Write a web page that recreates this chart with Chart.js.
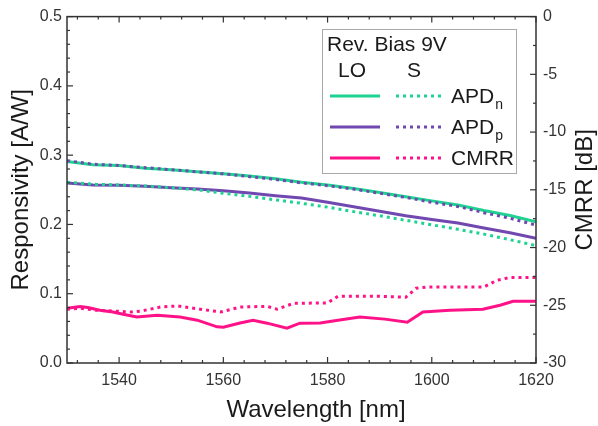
<!DOCTYPE html>
<html lang="en">
<head>
<meta charset="UTF-8">
<title>Responsivity and CMRR</title>
<script src="https://cdn.jsdelivr.net/npm/chart.js"></script>
<style>
  body { margin: 0; background: #fff; }
  #wrap { width: 598px; height: 426px; position: relative; }
</style>
</head>
<body>
<div id="wrap"><canvas id="grafica"></canvas></div>
<script>
// wavelength grid (nm) of the responsivity curves
const wavelength = [1530, 1535, 1540, 1545, 1550, 1555, 1560, 1565, 1570, 1575, 1580, 1585, 1590, 1595, 1600, 1605, 1610, 1615, 1620];

// responsivity [A/W], LO = solid, S = dotted
const apdnLO = [0.291, 0.286, 0.285, 0.281, 0.279, 0.276, 0.273, 0.270, 0.266, 0.261, 0.257, 0.252, 0.246, 0.240, 0.234, 0.228, 0.220, 0.213, 0.204];
const apdnS  = [0.261, 0.258, 0.257, 0.2555, 0.253, 0.250, 0.245, 0.2405, 0.2355, 0.2305, 0.225, 0.2185, 0.2125, 0.206, 0.1995, 0.193, 0.186, 0.178, 0.1695];
const apdpLO = [0.260, 0.257, 0.2565, 0.255, 0.253, 0.251, 0.2485, 0.2455, 0.2415, 0.238, 0.232, 0.2255, 0.219, 0.2125, 0.207, 0.202, 0.195, 0.188, 0.180];
const apdpS  = [0.292, 0.287, 0.285, 0.282, 0.279, 0.276, 0.273, 0.269, 0.265, 0.260, 0.256, 0.251, 0.245, 0.239, 0.232, 0.226, 0.217, 0.209, 0.199];

// CMRR [dB]
const cmrrLOwl = [1530, 1532.5, 1534, 1536.3, 1538.8, 1541, 1543.4, 1547.3, 1551.7, 1555, 1558.8, 1560, 1563.2, 1565.7, 1568.4, 1572.2, 1574.7, 1578.6, 1582, 1586.2, 1591, 1595.3, 1598.3, 1603.5, 1609.8, 1613.1, 1615.6, 1620];
const cmrrLO   = [-25.26, -25.1, -25.2, -25.43, -25.58, -25.8, -26.01, -25.86, -26.01, -26.29, -26.87, -26.9, -26.53, -26.29, -26.55, -26.98, -26.55, -26.53, -26.3, -26.01, -26.2, -26.47, -25.58, -25.43, -25.34, -25.0, -24.66, -24.66];
const cmrrSwl  = [1530, 1532.5, 1536, 1540, 1542.3, 1544, 1548, 1551.2, 1554.3, 1559.5, 1563.2, 1568.4, 1570.3, 1573.5, 1580, 1582, 1590, 1595, 1597, 1599, 1610, 1612.5, 1615, 1620];
const cmrrS    = [-25.34, -25.26, -25.45, -25.52, -25.58, -25.52, -25.15, -25.06, -25.26, -25.58, -25.15, -25.09, -25.34, -24.83, -24.8, -24.22, -24.22, -24.31, -23.53, -23.42, -23.42, -22.84, -22.59, -22.59];

const xTicks = [1540, 1560, 1580, 1600, 1620];

const verde = '#1ed391';
const morado = '#7048b0';
const rosa = '#ff1287';
const fuente = "'Liberation Sans', Arial, sans-serif";

const pts = (xs, ys) => xs.map((x, i) => ({ x: x, y: ys[i] }));

function serie(label, xs, ys, color, dotted, eje) {
  return {
    label: label,
    data: pts(xs, ys),
    borderColor: color,
    borderWidth: 3,
    borderDash: dotted ? [3, 4] : [],
    pointRadius: 0,
    tension: 0,
    yAxisID: eje,
    order: dotted ? 0 : 1
  };
}

// frame, inward ticks, titles and legend
const extras = {
  id: 'extras',
  afterDraw(chart) {
    const { ctx, chartArea: a, scales: { x, y, y1 } } = chart;
    ctx.save();
    ctx.strokeStyle = '#333';
    ctx.lineWidth = 1.5;
    ctx.strokeRect(a.left, a.top, a.right - a.left, a.bottom - a.top);

    const seg = (x0, y0, x1, y1_) => { ctx.beginPath(); ctx.moveTo(x0, y0); ctx.lineTo(x1, y1_); ctx.stroke(); };
    ctx.lineWidth = 1.2;
    for (let v = 1532; v <= 1620; v += 4) {
      const len = v % 20 === 0 ? 6 : 3;
      const px = x.getPixelForValue(v);
      seg(px, a.bottom, px, a.bottom - len);
      seg(px, a.top, px, a.top + len);
    }
    for (let i = 0; i <= 25; i++) {
      const len = i % 5 === 0 ? 6 : 3;
      const py = y.getPixelForValue(i * 0.02);
      seg(a.left, py, a.left + len, py);
    }
    for (let i = 0; i <= 12; i++) {
      const len = i % 2 === 0 ? 6 : 3;
      const py = y1.getPixelForValue(-i * 2.5);
      seg(a.right, py, a.right - len, py);
    }

    // axis titles
    ctx.fillStyle = '#1a1a1a';
    ctx.font = '24px ' + fuente;
    ctx.textAlign = 'center';
    ctx.textBaseline = 'alphabetic';
    ctx.fillText('Wavelength [nm]', 316, 417);
    ctx.save();
    ctx.translate(28, (a.top + a.bottom) / 2);
    ctx.rotate(-Math.PI / 2);
    ctx.fillText('Responsivity [A/W]', 0, 0);
    ctx.restore();
    ctx.save();
    ctx.translate(592, (a.top + a.bottom) / 2);
    ctx.rotate(-Math.PI / 2);
    ctx.fillText('CMRR [dB]', 0, 0);
    ctx.restore();

    // legend
    ctx.strokeStyle = '#aaa';
    ctx.lineWidth = 1;
    ctx.strokeRect(322.5, 29.5, 194, 144);
    ctx.font = '21px ' + fuente;
    ctx.textAlign = 'left';
    ctx.fillText('Rev. Bias 9V', 327, 51);
    ctx.fillText('LO', 338, 77);
    ctx.fillText('S', 407, 77);
    const filas = [
      { c: verde, t: 'APD', sub: 'n', y: 96 },
      { c: morado, t: 'APD', sub: 'p', y: 127 },
      { c: rosa, t: 'CMRR', sub: '', y: 158 }
    ];
    filas.forEach(f => {
      ctx.strokeStyle = f.c;
      ctx.lineWidth = 3;
      ctx.setLineDash([]);
      seg(330, f.y, 380, f.y);
      ctx.setLineDash([3, 4]);
      seg(396, f.y, 443, f.y);
      ctx.setLineDash([]);
      ctx.font = '21px ' + fuente;
      ctx.fillText(f.t, 451, f.y + 7);
      if (f.sub) {
        const w = ctx.measureText(f.t).width;
        ctx.font = '14px ' + fuente;
        ctx.fillText(f.sub, 451 + w + 1, f.y + 13);
      }
    });
    ctx.restore();
  }
};

new Chart(document.getElementById('grafica'), {
  type: 'line',
  data: {
    datasets: [
      serie('APDn LO', wavelength, apdnLO, verde, false, 'y'),
      serie('APDp LO', wavelength, apdpLO, morado, false, 'y'),
      serie('CMRR LO', cmrrLOwl, cmrrLO, rosa, false, 'y1'),
      serie('APDn S', wavelength, apdnS, verde, true, 'y'),
      serie('APDp S', wavelength, apdpS, morado, true, 'y'),
      serie('CMRR S', cmrrSwl, cmrrS, rosa, true, 'y1')
    ]
  },
  options: {
    responsive: true,
    maintainAspectRatio: false,
    animation: false,
    layout: { padding: { top: 15, left: 0, right: 0, bottom: 0 } },
    plugins: { legend: { display: false }, tooltip: { enabled: false } },
    scales: {
      x: {
        type: 'linear',
        min: 1530,
        max: 1620,
        afterBuildTicks: s => { s.ticks = xTicks.map(v => ({ value: v })); },
        afterFit: s => { s.height = 63; },
        grid: { display: false, drawTicks: false },
        border: { display: false },
        ticks: { color: '#333', font: { size: 16, family: fuente }, padding: 8, maxRotation: 0, callback: v => String(v) }
      },
      y: {
        position: 'left',
        min: 0,
        max: 0.5,
        afterFit: s => { s.width = 67; },
        grid: { display: false, drawTicks: false },
        border: { display: false },
        ticks: { stepSize: 0.1, color: '#333', font: { size: 16, family: fuente }, padding: 5, callback: v => v.toFixed(1) }
      },
      y1: {
        position: 'right',
        min: -30,
        max: 0,
        afterFit: s => { s.width = 62; },
        grid: { display: false, drawTicks: false },
        border: { display: false },
        ticks: { stepSize: 5, color: '#333', font: { size: 16, family: fuente }, padding: 7 }
      }
    }
  },
  plugins: [extras]
});
</script>
</body>
</html>
